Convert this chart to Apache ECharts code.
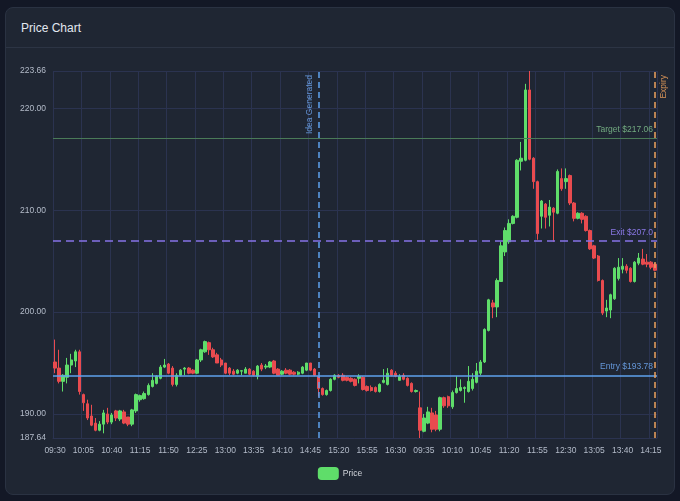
<!DOCTYPE html>
<html>
<head>
<meta charset="utf-8">
<script src="https://cdn.jsdelivr.net/npm/echarts@6/dist/echarts.min.js"></script>
<style>
html,body{margin:0;padding:0;background:#131826;width:680px;height:501px;overflow:hidden;font-family:"Liberation Sans",Arial,sans-serif;}
#card{position:absolute;left:5px;top:7px;width:668px;height:486px;background:#1f2633;border:1px solid #2a3242;border-radius:8px;}
#hdr{position:absolute;left:0;top:0;width:100%;height:39px;border-bottom:1px solid #2c3444;}
#hdr span{position:absolute;left:15px;top:13px;font-size:12px;color:#e2e8f0;font-weight:400;}
#chart{position:absolute;left:0;top:0;width:680px;height:501px;}
</style>
</head>
<body>
<div id="card"><div id="hdr"><span>Price Chart</span></div></div>
<div id="chart"></div>
<script>
const categories = [
'09:30','09:35','09:40','09:45','09:50','09:55','10:00','10:05','10:10','10:15','10:20','10:25','10:30','10:35','10:40','10:45','10:50','10:55','11:00','11:05','11:10','11:15','11:20','11:25','11:30','11:35','11:40','11:45','11:50','11:55','12:00','12:05','12:10','12:15','12:20','12:25','12:30','12:35','12:40','12:45','12:50','12:55','13:00','13:05','13:10','13:15','13:20','13:25','13:30','13:35','13:40','13:45','13:50','13:55','14:00','14:05','14:10','14:15','14:20','14:25','14:30','14:35','14:40','14:45','14:50','14:55','15:00','15:05','15:10','15:15','15:20','15:25','15:30','15:35','15:40','15:45','15:50','15:55','16:00','16:05','16:10','16:15','16:20','16:25','16:30','16:35','16:40','16:45','16:50','16:55',
'09:30','09:35','09:40','09:45','09:50','09:55','10:00','10:05','10:10','10:15','10:20','10:25','10:30','10:35','10:40','10:45','10:50','10:55','11:00','11:05','11:10','11:15','11:20','11:25','11:30','11:35','11:40','11:45','11:50','11:55','12:00','12:05','12:10','12:15','12:20','12:25','12:30','12:35','12:40','12:45','12:50','12:55','13:00','13:05','13:10','13:15','13:20','13:25','13:30','13:35','13:40','13:45','13:50','13:55','14:00','14:05','14:10','14:15','14:20'];

const opens = [195.1,194.5,193.2,193.6,194.8,195.2,196.1,191.9,191.0,189.8,189.1,188.4,189.0,190.0,189.2,190.3,189.5,190.2,189.7,189.0,190.3,191.4,191.5,191.9,192.7,193.0,193.5,194.6,194.9,194.5,192.9,193.8,194.4,194.5,194.3,194.0,195.3,196.1,197.0,196.3,195.8,195.3,195.0,194.5,194.2,194.0,194.2,194.0,194.4,194.2,193.7,194.8,194.6,194.6,195.2,194.4,193.9,194.3,194.3,194.1,193.9,194.0,194.3,195.0,194.4,193.7,192.5,191.9,192.3,193.4,193.8,193.8,193.6,193.5,193.4,193.5,193.6,192.7,192.6,192.6,192.2,193.1,192.9,194.3,194.0,193.3,193.8,193.5,193.0,192.2,
190.6,188.3,189.1,190.1,189.9,188.5,191.6,191.7,190.7,192.1,192.3,192.5,192.2,192.5,193.1,194.0,195.1,198.2,200.9,200.5,203.0,205.9,206.9,208.7,209.3,214.8,214.9,221.8,215.1,212.8,209.4,210.6,209.5,210.2,209.7,213.1,212.8,213.4,210.7,209.2,209.7,209.4,208.0,206.5,205.5,203.1,200.1,200.2,201.3,203.3,204.2,204.5,204.3,203.0,204.8,205.2,204.9,204.9,204.7];
const closes = [194.5,193.2,193.8,194.8,195.3,196.1,192.2,191.1,189.6,188.9,188.4,189.0,190.1,189.2,189.9,189.6,190.3,189.1,189.0,190.4,191.9,191.8,192.0,192.8,193.3,193.7,194.6,194.8,194.0,192.9,193.8,194.3,194.5,194.0,194.0,195.3,196.3,197.1,196.3,195.6,195.0,194.8,194.0,194.0,193.9,194.3,194.25,194.4,193.9,193.8,194.7,194.4,194.7,195.1,194.0,193.8,194.2,194.0,193.9,193.9,194.1,194.6,195.0,194.3,193.8,192.5,191.9,192.3,193.4,193.8,193.6,193.3,193.3,193.2,192.8,193.7,192.4,192.3,192.3,192.2,192.9,193.3,194.0,193.8,193.7,193.7,193.4,192.8,192.2,192.3,
188.4,189.6,190.2,188.5,188.5,191.6,190.8,190.8,192.1,192.5,192.6,192.6,193.2,193.4,194.2,195.1,198.3,201.2,200.5,203.1,206.5,208.0,208.7,209.4,214.9,215.1,221.8,215.0,212.8,207.7,210.9,209.3,210.3,209.8,213.8,212.1,213.1,210.7,209.2,209.7,209.1,208.0,206.2,205.3,203.1,199.9,200.4,201.7,204.3,204.4,204.5,204.1,203.0,204.9,205.3,204.7,204.7,204.4,204.1];
const lows = [194.0,193.0,192.2,193.0,194.0,194.6,191.9,190.3,189.4,188.8,188.3,188.3,188.1,189.0,189.0,189.3,189.3,189.0,188.8,188.8,190.1,191.2,191.4,191.8,192.6,192.9,193.4,194.5,193.9,192.7,192.7,193.7,193.8,193.9,193.9,193.9,195.1,196.0,195.8,195.5,195.0,194.6,193.9,193.8,193.8,193.9,193.8,194.0,193.8,193.7,193.4,194.2,194.4,194.5,193.9,193.8,193.8,193.9,193.8,193.8,193.8,193.9,194.2,194.2,193.7,191.7,191.8,191.8,192.2,193.3,193.5,193.2,193.2,193.1,192.7,193.0,192.3,192.2,192.2,192.1,192.1,193.0,192.8,193.7,193.6,193.3,193.3,192.7,192.1,192.1,
187.64,188.2,189.0,188.2,188.3,188.3,190.6,190.6,190.5,192.0,192.2,191.1,192.1,192.3,193.0,193.8,195.0,198.1,199.4,199.5,203.0,205.5,206.7,208.6,209.2,213.9,214.8,214.9,212.1,207.1,208.2,208.2,208.4,206.9,209.6,211.9,212.1,210.5,208.9,209.1,208.7,207.9,206.1,205.2,203.0,199.7,199.5,199.4,201.2,203.1,203.8,203.8,202.9,202.9,204.6,204.6,204.4,204.2,204.0];
const highs = [197.3,196.3,193.9,195.5,195.9,196.3,196.3,192.0,191.4,190.9,189.6,189.3,190.4,190.6,190.1,190.4,190.4,190.4,189.7,190.5,192.0,191.9,192.2,193.0,194.0,193.8,194.8,195.4,195.0,194.7,194.0,194.4,194.6,194.6,194.4,195.4,196.4,197.2,197.1,196.5,196.0,195.5,195.0,194.6,194.4,194.4,194.3,194.6,194.5,194.3,194.8,195.0,194.9,195.2,195.3,194.5,194.3,194.5,194.4,194.2,194.2,194.7,195.0,195.0,194.5,193.7,192.6,192.4,193.5,193.9,193.9,194.0,193.7,193.6,193.5,193.9,193.7,192.8,192.8,192.7,193.0,194.4,194.5,194.4,194.2,193.9,194.0,193.6,193.1,192.4,
192.2,190.0,190.7,190.6,190.3,191.7,191.7,191.8,192.3,193.7,193.4,192.7,194.7,194.0,195.0,195.3,198.4,201.3,201.2,203.3,206.9,208.3,209.1,209.5,215.0,216.7,222.4,223.66,215.2,212.9,211.0,210.7,211.0,210.3,214.0,214.1,214.1,213.5,210.8,209.8,209.8,209.5,208.1,206.6,205.6,203.2,201.2,201.8,204.4,205.3,205.3,204.7,204.4,205.0,205.8,206.2,205.7,205.0,204.8];

const yMin = 187.64, yMax = 223.66;
const targetPrice = 217.06, exitPrice = 207.0, entryPrice = 193.78;
const ideaIndex = 65, expiryIndex = 148;

const ohlc = opens.map((o, i) => [o, closes[i], lows[i], highs[i]]);

const chart = echarts.init(document.getElementById('chart'), null, {renderer: 'canvas'});
const gridColor = '#2b3350';
const FONT = '"Liberation Sans", Arial, Helvetica, sans-serif';
const FS = 8.5;
const axisTextColor = '#b3bbc9';
chart.setOption({
  animation: false,
  backgroundColor: 'transparent',
  textStyle: {fontFamily: FONT},
  grid: {left: 53, right: 23, top: 71, bottom: 63},
  legend: {
    bottom: 16, left: 'center',
    itemWidth: 19, itemHeight: 11, itemGap: 4,
    textStyle: {color: '#d1d5db', fontSize: FS, fontFamily: FONT},
    data: ['Price']
  },
  xAxis: {
    type: 'category',
    data: categories,
    boundaryGap: true,
    axisLine: {show: true, lineStyle: {color: gridColor}},
    axisTick: {show: false},
    axisLabel: {interval: 6, color: axisTextColor, fontSize: FS, margin: 8, fontFamily: FONT},
    splitLine: {show: true, interval: 6, lineStyle: {color: gridColor, width: 1}}
  },
  yAxis: {
    type: 'value',
    min: yMin, max: yMax,
    scale: true,
    axisLine: {show: false},
    axisTick: {show: false},
    axisLabel: {color: axisTextColor, fontSize: FS, margin: 7, fontFamily: FONT, formatter: v => v.toFixed(2)},
    splitLine: {show: true, lineStyle: {color: gridColor, width: 1}}
  },
  series: [{
    name: 'Price',
    type: 'candlestick',
    data: ohlc,
    barWidth: '72%',
    itemStyle: {
      color: '#5fdd6a', color0: '#e94b4f',
      borderColor: '#5fdd6a', borderColor0: '#e94b4f',
      borderWidth: 1
    },
    markLine: {
      symbol: ['none', 'none'],
      silent: true,
      animation: false,
      data: [
        {yAxis: targetPrice, lineStyle: {color: '#4a7a58', type: 'solid', width: 1},
         label: {formatter: 'Target $217.06', position: 'insideEndTop', distance: 4, color: '#72aa80', fontSize: FS, fontFamily: FONT}},
        {yAxis: exitPrice, lineStyle: {color: '#8673e8', type: [8, 5], width: 1.5},
         label: {formatter: 'Exit $207.0', position: 'insideEndTop', distance: 4, color: '#8a78e6', fontSize: FS, fontFamily: FONT}},
        {yAxis: entryPrice, lineStyle: {color: '#5fa2ee', type: 'solid', width: 1.5},
         label: {formatter: 'Entry $193.78', position: 'insideEndTop', distance: 4, color: '#6496d8', fontSize: FS, fontFamily: FONT}},
        {xAxis: ideaIndex, lineStyle: {color: '#5fa2ee', type: [6, 4], width: 1.5},
         label: {formatter: 'Idea Generated', position: 'insideEndTop', distance: 4, color: '#6496d8', fontSize: FS, fontFamily: FONT}},
        {xAxis: expiryIndex, lineStyle: {color: '#eea25f', type: [6, 4], width: 1.5},
         label: {formatter: 'Expiry', position: 'insideEndBottom', distance: 4, color: '#d99457', fontSize: FS, fontFamily: FONT}}
      ]
    }
  }]
});
</script>
</body>
</html>
